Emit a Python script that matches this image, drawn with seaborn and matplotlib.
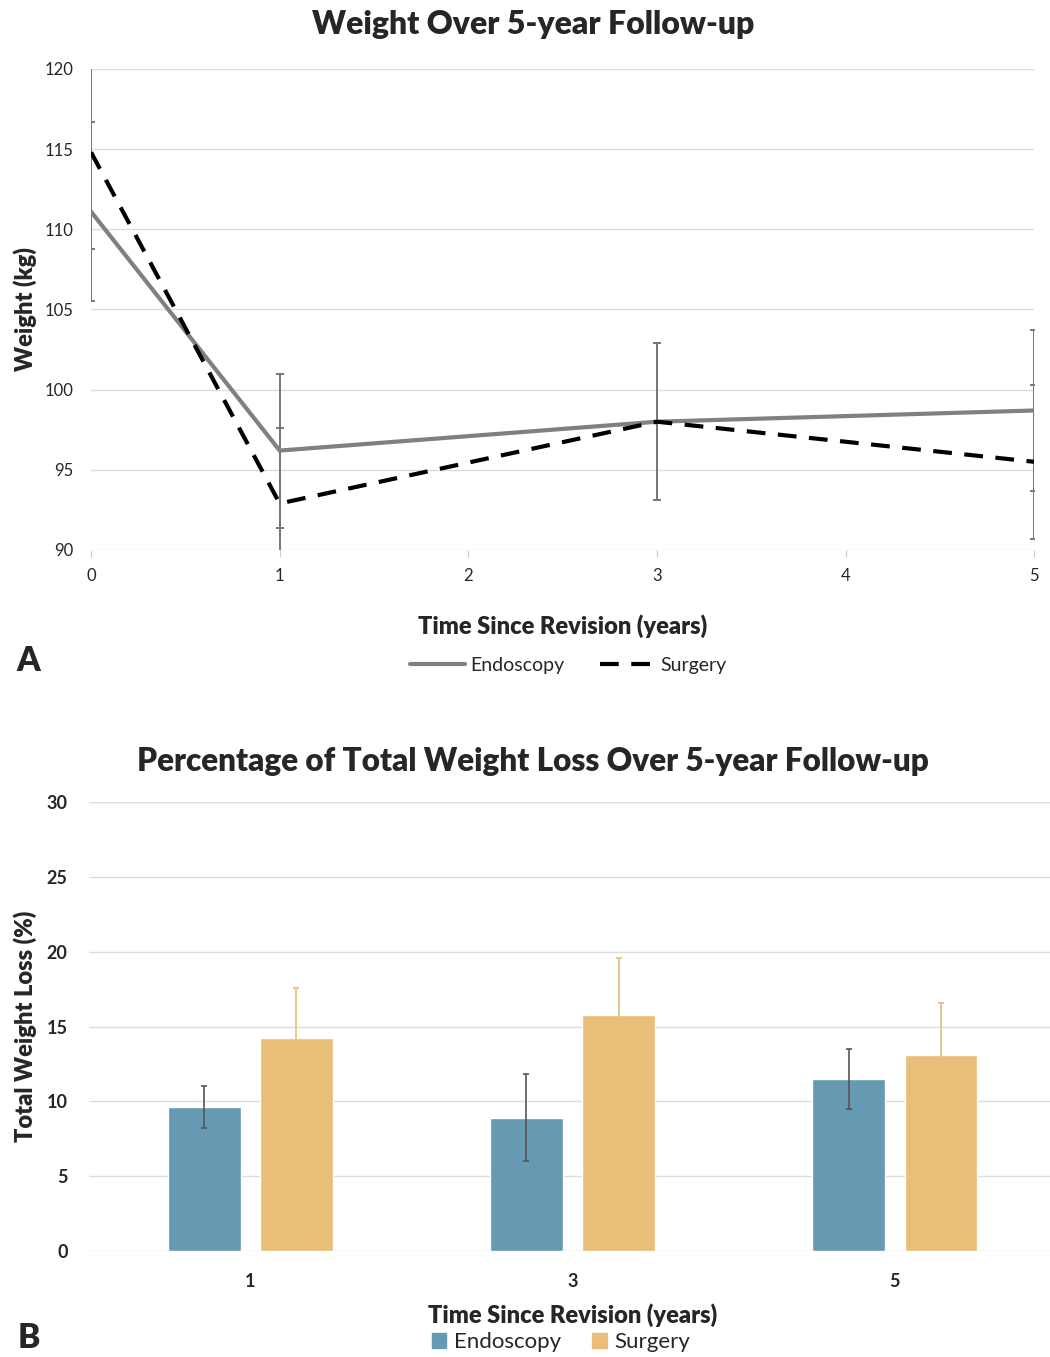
import pandas as pd
import seaborn as sns
import matplotlib.pyplot as plt
from matplotlib.patches import Patch
from matplotlib.lines import Line2D

# panel A: weight (kg) over follow-up
years_a = [0, 1, 3, 5]
endo_weight = [111.1, 96.2, 98.0, 98.7]
endo_weight_err = [5.6, 4.8, 4.9, 5.0]
surg_weight = [114.8, 92.9, 98.0, 95.5]
surg_weight_err = [6.0, 4.7, 4.9, 4.8]

# panel B: % total weight loss
years_b = ['1', '3', '5']
endo_twl = [9.6, 8.9, 11.5]
endo_twl_err = [1.4, 2.9, 2.0]
surg_twl = [14.2, 15.8, 13.1]
surg_twl_err = [3.4, 3.8, 3.5]

groups = ['Endoscopy', 'Surgery']
line_colors = {'Endoscopy': '#808080', 'Surgery': 'black'}
bar_colors = {'Endoscopy': '#669AB2', 'Surgery': '#E8BE78'}

sns.set_style('white')
plt.rcParams['font.family'] = ['Lato', 'DejaVu Sans']

df_a = pd.DataFrame({
    'year': years_a * 2,
    'weight': endo_weight + surg_weight,
    'group': ['Endoscopy'] * 4 + ['Surgery'] * 4,
})
df_b = pd.DataFrame({
    'year': years_b * 2,
    'twl': endo_twl + surg_twl,
    'group': ['Endoscopy'] * 3 + ['Surgery'] * 3,
})

fig = plt.figure(figsize=(10.5, 13.57), dpi=100)
ax1 = fig.add_axes([0.0867, 0.5947, 0.8983, 0.3545])
ax2 = fig.add_axes([0.0848, 0.0781, 0.921, 0.3309])

# ---- A ----
sns.lineplot(data=df_a, x='year', y='weight', hue='group', style='group',
             palette=line_colors, dashes={'Endoscopy': '', 'Surgery': (4.5, 3)},
             linewidth=3, ax=ax1, legend=False, zorder=3)
ax1.errorbar(years_a, endo_weight, yerr=endo_weight_err, fmt='none',
             ecolor='#777777', elinewidth=1.4, capsize=3, capthick=1.4, zorder=2)
ax1.errorbar(years_a, surg_weight, yerr=surg_weight_err, fmt='none',
             ecolor='#777777', elinewidth=1.4, capsize=3, capthick=1.4, zorder=2)
ax1.set_xlim(0, 5)
ax1.set_ylim(90, 120)
ax1.set_xticks(range(6))
ax1.set_yticks(range(90, 121, 5))
ax1.grid(axis='y', color='#DDDDDD', lw=1)
for s in ax1.spines.values():
    s.set_visible(False)
ax1.tick_params(axis='x', bottom=True, length=5, color='#CCCCCC', labelsize=12, pad=8)
ax1.tick_params(axis='y', left=False, labelsize=12, pad=9)
ax1.set_xlabel('Time Since Revision (years)', fontsize=17, fontweight='heavy')
ax1.set_ylabel('Weight (kg)', fontsize=17, fontweight='heavy')
ax1.xaxis.set_label_coords(0.5, -0.133)
ax1.yaxis.set_label_coords(-0.057, 0.5)
h1 = [Line2D([], [], color='#808080', lw=3),
      Line2D([], [], color='black', lw=3, dashes=(4.5, 3))]
ax1.legend(h1, groups, loc='center', bbox_to_anchor=(0.506, -0.24), ncol=2,
           frameon=False, fontsize=14, handlelength=2.8, handletextpad=0.3,
           columnspacing=1.8)

# ---- B ----
sns.barplot(data=df_b, x='year', y='twl', hue='group', palette=bar_colors,
            width=0.572, gap=0.21, ax=ax2, legend=False, zorder=2, saturation=1)
errs = {'Endoscopy': (endo_twl, endo_twl_err, '#555555'),
        'Surgery': (surg_twl, surg_twl_err, '#E8BE78')}
for cont, g in zip(ax2.containers, groups):
    vals, err, col = errs[g]
    xs = [p.get_x() + p.get_width() / 2 for p in cont.patches]
    ax2.errorbar(xs, vals, yerr=err, fmt='none', ecolor=col, elinewidth=1.2,
                 capsize=2, capthick=1.2, zorder=3)
ax2.set_ylim(0, 30)
ax2.set_xlim(-0.5, 2.5)
ax2.set_yticks(range(0, 31, 5))
ax2.grid(axis='y', color='#DDDDDD', lw=1)
ax2.set_axisbelow(True)
for s in ax2.spines.values():
    s.set_visible(False)
ax2.tick_params(axis='x', bottom=False, labelsize=13, pad=12)
ax2.tick_params(axis='y', left=False, labelsize=13, pad=12)
for t in ax2.get_xticklabels() + ax2.get_yticklabels():
    t.set_fontweight('bold')
ax2.set_xlabel('Time Since Revision (years)', fontsize=17, fontweight='heavy')
ax2.set_ylabel('Total Weight Loss (%)', fontsize=17, fontweight='heavy')
ax2.xaxis.set_label_coords(0.5, -0.116)
ax2.yaxis.set_label_coords(-0.054, 0.5)
h2 = [Patch(color=bar_colors[g]) for g in groups]
ax2.legend(h2, groups, loc='center', bbox_to_anchor=(0.488, -0.203), ncol=2,
           frameon=False, fontsize=16, handlelength=0.65, handleheight=0.65,
           handletextpad=0.35, columnspacing=1.4)

fig.text(0.508, 0.982, 'Weight Over 5-year Follow-up', ha='center', va='center',
         fontsize=23, fontweight='heavy')
fig.text(0.508, 0.439, 'Percentage of Total Weight Loss Over 5-year Follow-up',
         ha='center', va='center', fontsize=22.7, fontweight='heavy')
fig.text(0.027, 0.513, 'A', ha='center', va='center', fontsize=24, fontweight='heavy')
fig.text(0.027, 0.014, 'B', ha='center', va='center', fontsize=24, fontweight='heavy')

fig.savefig('out.png', dpi=100)
